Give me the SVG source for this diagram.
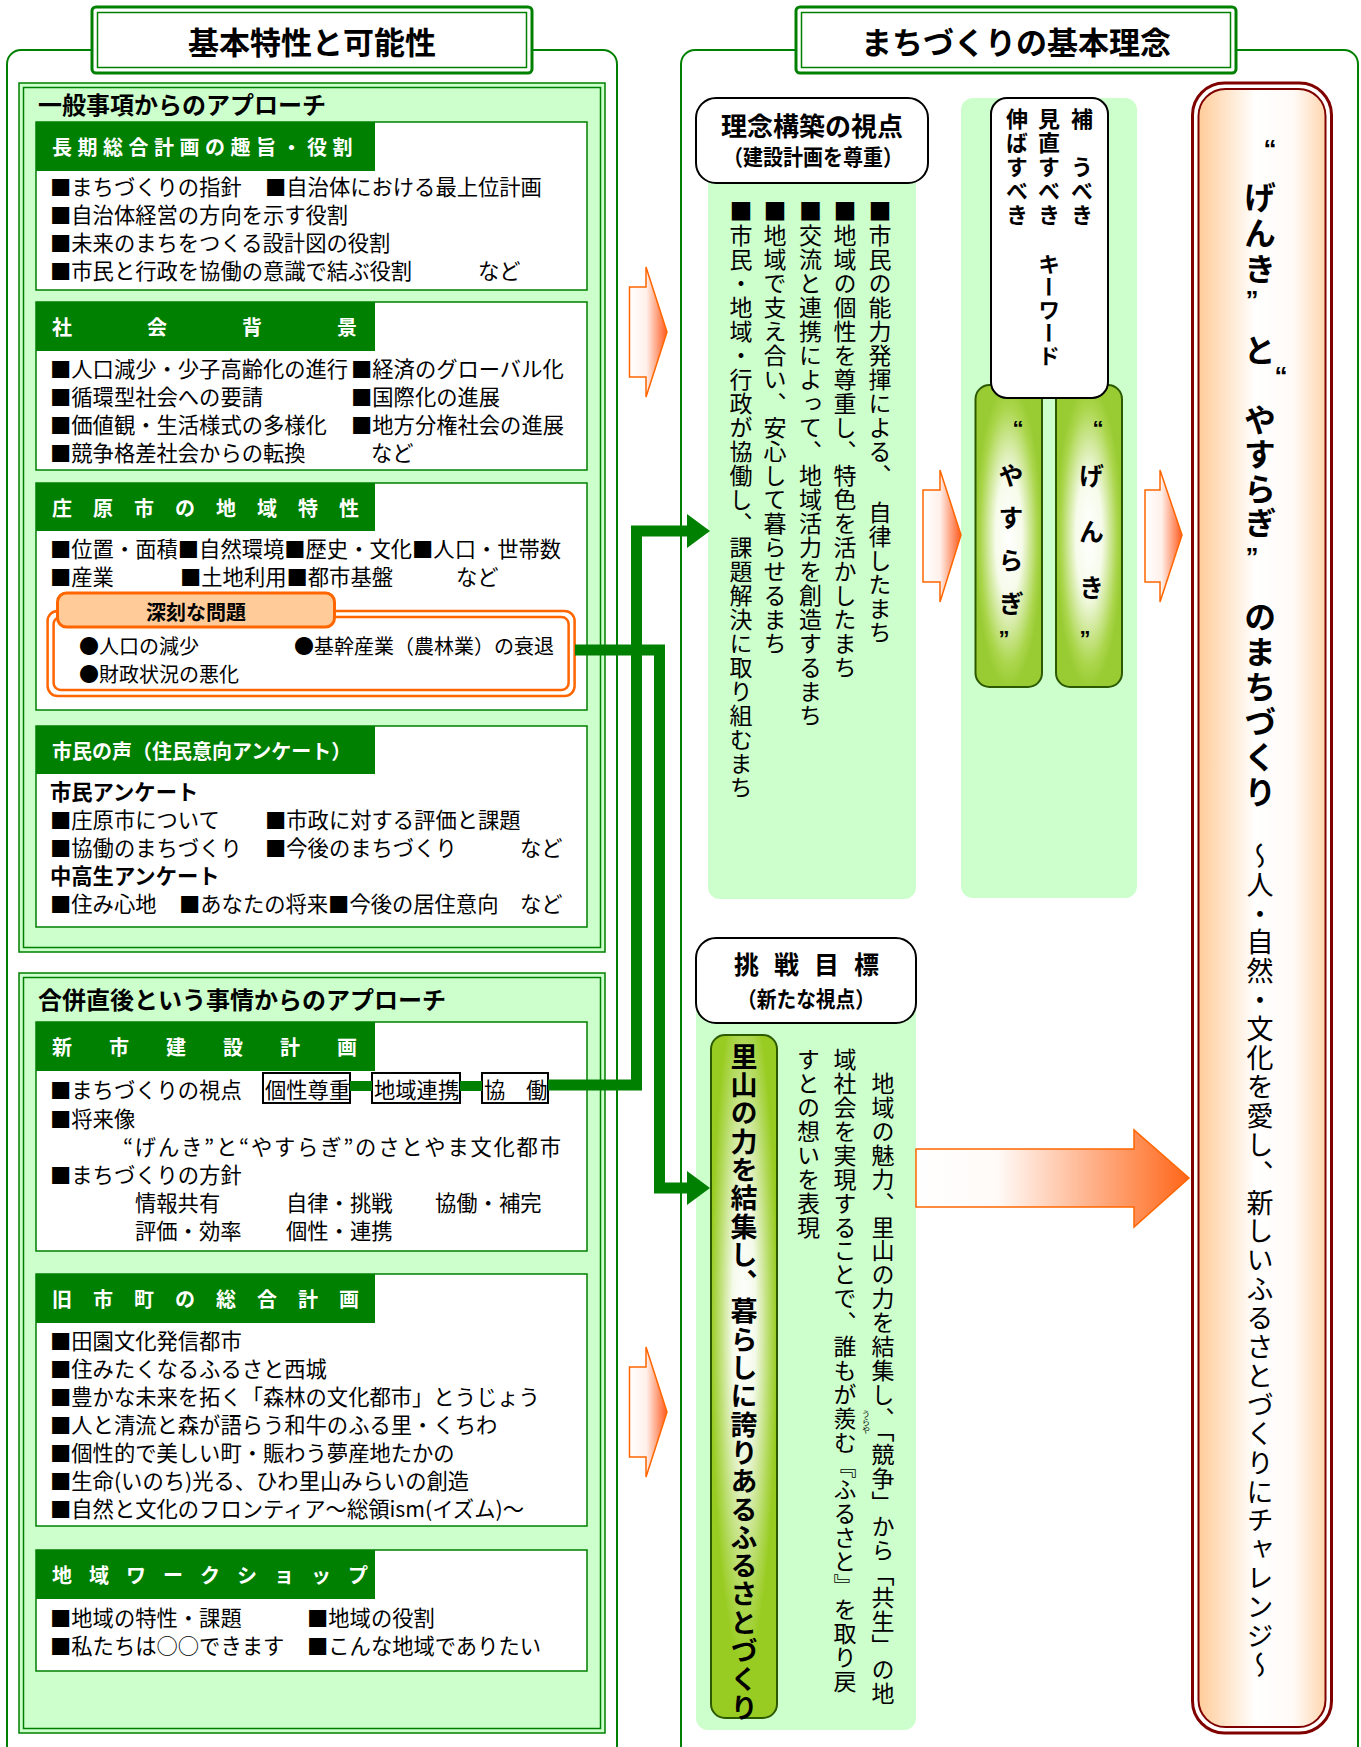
<svg xmlns="http://www.w3.org/2000/svg" width="1361" height="1747" viewBox="0 0 1361 1747">
<style>
text { font-family: 'Noto Sans CJK JP', 'Noto Sans', sans-serif; fill: #000; dominant-baseline: central; }
.b { font-size: 21.3px; }
.bb { font-size: 21.3px; font-weight: bold; }
.hd { font-size: 20px; font-weight: bold; fill: #fff; }
.sec { font-size: 24px; font-weight: bold; }
.ttl { font-size: 31px; font-weight: bold; text-anchor: middle; }
.v { writing-mode: vertical-rl; font-size: 23px; letter-spacing: 1px; }
.vb { writing-mode: vertical-rl; font-size: 22px; font-weight: bold; letter-spacing: 2px; }
.vt { writing-mode: vertical-rl; font-size: 32px; font-weight: bold; }
.vp { writing-mode: vertical-rl; font-size: 25px; font-weight: bold; }
.q { font-family: 'Liberation Sans', sans-serif; font-weight: bold; text-anchor: middle; dominant-baseline: auto; }
.frame { fill: none; stroke: #008000; stroke-width: 2; }
.gbox { fill: #ccffcc; stroke: #008000; stroke-width: 1.5; }
.gin { fill: none; stroke: #008000; stroke-width: 1.5; }
.wbox { fill: #fff; stroke: #008000; stroke-width: 1.5; }
.hbar { fill: #008000; }
.conn { fill: none; stroke: #008000; stroke-width: 11; stroke-linejoin: miter; }
.arr { stroke: #ff6600; stroke-width: 1.5; }
</style>
<defs>
<linearGradient id="arrG" x1="0" y1="0" x2="1" y2="0"><stop offset="0" stop-color="#ffffff"/><stop offset="0.45" stop-color="#fff0ea"/><stop offset="1" stop-color="#ff5a1e"/></linearGradient>
<linearGradient id="bigG" x1="0" y1="0" x2="1" y2="0"><stop offset="0" stop-color="#ffffff"/><stop offset="0.3" stop-color="#fffaf7"/><stop offset="1" stop-color="#ff6619"/></linearGradient>
<radialGradient id="pillG" cx="0.5" cy="0.5" r="0.5"><stop offset="0" stop-color="#ffffff"/><stop offset="0.4" stop-color="#f6fbea"/><stop offset="0.85" stop-color="#abd64c"/><stop offset="1" stop-color="#99cc33"/></radialGradient>
<radialGradient id="pillG2" cx="0.5" cy="0.42" r="0.5"><stop offset="0" stop-color="#ffffff"/><stop offset="0.35" stop-color="#f4faea"/><stop offset="0.85" stop-color="#abd64c"/><stop offset="1" stop-color="#99cc22"/></radialGradient>
<linearGradient id="peachG" x1="0" y1="0" x2="1" y2="0"><stop offset="0" stop-color="#ffcc99"/><stop offset="0.45" stop-color="#ffffff"/><stop offset="0.75" stop-color="#fffaf6"/><stop offset="1" stop-color="#ffd6ae"/></linearGradient>
</defs>

<!-- LEFT PANEL -->
<g id="left-panel">
<rect class="frame" x="7" y="50" width="610" height="1720" rx="14"/>
<g id="title-left">
<rect x="92" y="7" width="440" height="66" rx="4" fill="#fff" stroke="#008000" stroke-width="3"/>
<rect x="97.5" y="12.5" width="429" height="55" fill="none" stroke="#008000" stroke-width="1.5"/>
<text class="ttl" x="312" y="40">基本特性と可能性</text>
</g>
</g>

<g id="general-approach">
<rect class="gbox" x="19" y="83" width="586" height="869"/>
<rect class="gin" x="23.5" y="87.5" width="577" height="860"/>
<text class="sec" x="38" y="103">一般事項からのアプローチ</text>
</g>

<g id="sec-chouki">
<rect class="wbox" x="36" y="122" width="551" height="168"/>
<rect class="hbar" x="36" y="122" width="339" height="49"/>
<text class="hd" x="52" y="146.5" style="letter-spacing:5.5px">長期総合計画の趣旨・役割</text>
<text class="b" x="50" y="185">■まちづくりの指針</text>
<text class="b" x="265" y="185">■自治体における最上位計画</text>
<text class="b" x="50" y="213">■自治体経営の方向を示す役割</text>
<text class="b" x="50" y="241">■未来のまちをつくる設計図の役割</text>
<text class="b" x="50" y="269">■市民と行政を協働の意識で結ぶ役割</text>
<text class="b" x="478" y="269">など</text>
</g>

<g id="sec-shakai">
<rect class="wbox" x="36" y="302" width="551" height="168"/>
<rect class="hbar" x="36" y="302" width="339" height="49"/>
<text class="hd" x="52" y="326.5">社</text>
<text class="hd" x="147" y="326.5">会</text>
<text class="hd" x="242" y="326.5">背</text>
<text class="hd" x="337" y="326.5">景</text>
<text class="b" x="50" y="367">■人口減少・少子高齢化の進行</text>
<text class="b" x="351" y="367">■経済のグローバル化</text>
<text class="b" x="50" y="395">■循環型社会への要請</text>
<text class="b" x="351" y="395">■国際化の進展</text>
<text class="b" x="50" y="423">■価値観・生活様式の多様化</text>
<text class="b" x="351" y="423">■地方分権社会の進展</text>
<text class="b" x="50" y="451">■競争格差社会からの転換</text>
<text class="b" x="371" y="451">など</text>
</g>

<g id="sec-chiiki">
<rect class="wbox" x="36" y="483" width="551" height="227"/>
<rect class="hbar" x="36" y="483" width="339" height="48"/>
<text class="hd" x="52" y="507" style="letter-spacing:21px">庄原市の地域特性</text>
<text class="b" x="50" y="547">■位置・面積■自然環境■歴史・文化■人口・世帯数</text>
<text class="b" x="50" y="575">■産業</text>
<text class="b" x="180" y="575">■土地利用■都市基盤</text>
<text class="b" x="456" y="575">など</text>
</g>

<g id="shinkoku">
<rect x="47.6" y="611" width="527" height="85" rx="10" fill="#fff" stroke="#ff6600" stroke-width="2.5"/>
<rect x="53.6" y="617" width="515" height="73" rx="7" fill="#fff" stroke="#ff6600" stroke-width="2.5"/>
<rect x="57.5" y="593" width="277" height="34" rx="9" fill="#ffcc99" stroke="#ff6600" stroke-width="3"/>
<text x="196" y="611" style="font-size:20px;font-weight:bold;text-anchor:middle">深刻な問題</text>
<text x="79" y="645" style="font-size:20px">●人口の減少</text>
<text x="294" y="645" style="font-size:20px">●基幹産業（農林業）の衰退</text>
<text x="79" y="673" style="font-size:20px">●財政状況の悪化</text>
</g>

<g id="sec-shimin">
<rect class="wbox" x="36" y="726" width="551" height="201"/>
<rect class="hbar" x="36" y="726" width="339" height="48"/>
<text class="hd" x="52" y="750">市民の声（住民意向アンケート）</text>
<text class="bb" x="50" y="790">市民アンケート</text>
<text class="b" x="50" y="818">■庄原市について</text>
<text class="b" x="265" y="818">■市政に対する評価と課題</text>
<text class="b" x="50" y="846">■協働のまちづくり</text>
<text class="b" x="265" y="846">■今後のまちづくり</text>
<text class="b" x="520" y="846">など</text>
<text class="bb" x="50" y="874">中高生アンケート</text>
<text class="b" x="50" y="902">■住み心地</text>
<text class="b" x="179" y="902">■あなたの将来■今後の居住意向</text>
<text class="b" x="520" y="902">など</text>
</g>

<g id="merger-approach">
<rect class="gbox" x="19" y="973" width="586" height="760"/>
<rect class="gin" x="23.5" y="977.5" width="577" height="751"/>
<text class="sec" x="38" y="998">合併直後という事情からのアプローチ</text>
</g>

<g id="sec-shinshi">
<rect class="wbox" x="36" y="1022" width="551" height="229"/>
<rect class="hbar" x="36" y="1022" width="339" height="49"/>
<text class="hd" x="52" y="1046.5" style="letter-spacing:37px">新市建設計画</text>
<text class="b" x="50" y="1088">■まちづくりの視点</text>
<rect x="263" y="1073" width="87" height="30" fill="#fff" stroke="#000" stroke-width="2"/>
<text class="b" x="265" y="1088">個性尊重</text>
<rect x="372" y="1073" width="88" height="30" fill="#fff" stroke="#000" stroke-width="2"/>
<text class="b" x="374" y="1088">地域連携</text>
<rect x="482" y="1073" width="66" height="30" fill="#fff" stroke="#000" stroke-width="2"/>
<text class="b" x="484" y="1088">協</text>
<text class="b" x="526" y="1088">働</text>
<text class="b" x="50" y="1117">■将来像</text>
<text class="b" x="123" y="1145" textLength="438" lengthAdjust="spacing">“げんき”と“やすらぎ”のさとやま文化都市</text>
<text class="b" x="50" y="1173">■まちづくりの方針</text>
<text class="b" x="135" y="1201">情報共有</text>
<text class="b" x="286" y="1201">自律・挑戦</text>
<text class="b" x="435" y="1201">協働・補完</text>
<text class="b" x="135" y="1229">評価・効率</text>
<text class="b" x="286" y="1229">個性・連携</text>
</g>

<g id="sec-kyushi">
<rect class="wbox" x="36" y="1274" width="551" height="252"/>
<rect class="hbar" x="36" y="1274" width="339" height="49"/>
<text class="hd" x="52" y="1298.5" style="letter-spacing:21px">旧市町の総合計画</text>
<text class="b" x="50" y="1339">■田園文化発信都市</text>
<text class="b" x="50" y="1367">■住みたくなるふるさと西城</text>
<text class="b" x="50" y="1395">■豊かな未来を拓く「森林の文化都市」とうじょう</text>
<text class="b" x="50" y="1423">■人と清流と森が語らう和牛のふる里・くちわ</text>
<text class="b" x="50" y="1451">■個性的で美しい町・賑わう夢産地たかの</text>
<text class="b" x="50" y="1479">■生命(いのち)光る、ひわ里山みらいの創造</text>
<text class="b" x="50" y="1507">■自然と文化のフロンティア～総領ism(イズム)～</text>
</g>

<g id="sec-workshop">
<rect class="wbox" x="36" y="1550" width="551" height="121"/>
<rect class="hbar" x="36" y="1550" width="339" height="49"/>
<text class="hd" x="52" y="1574.5" style="letter-spacing:17px">地域ワークショップ</text>
<text class="b" x="50" y="1616">■地域の特性・課題</text>
<text class="b" x="307" y="1616">■地域の役割</text>
<text class="b" x="50" y="1644">■私たちは○○できます</text>
<text class="b" x="307" y="1644">■こんな地域でありたい</text>
</g>

<!-- RIGHT PANEL -->
<g id="right-panel">
<rect class="frame" x="681" y="50" width="677" height="1720" rx="14"/>
<g id="title-right">
<rect x="796" y="7" width="440" height="66" rx="4" fill="#fff" stroke="#008000" stroke-width="3"/>
<rect x="801.5" y="12.5" width="429" height="55" fill="none" stroke="#008000" stroke-width="1.5"/>
<text class="ttl" x="1016" y="40">まちづくりの基本理念</text>
</g>
</g>

<g id="rinen">
<rect x="708" y="160" width="208" height="739" rx="12" fill="#ccffcc"/>
<rect x="696" y="98" width="232" height="85" rx="20" fill="#fff" stroke="#000" stroke-width="2"/>
<text x="812" y="124" style="font-size:26px;font-weight:bold;text-anchor:middle">理念構築の視点</text>
<text x="723" y="155" style="font-size:22px;font-weight:bold" textLength="180" lengthAdjust="spacingAndGlyphs">（建設計画を尊重）</text>
<text class="v" x="880" y="200">■市民の能力発揮による、　自律したまち</text>
<text class="v" x="845" y="200">■地域の個性を尊重し、特色を活かしたまち</text>
<text class="v" x="810.5" y="200">■交流と連携によって、地域活力を創造するまち</text>
<text class="v" x="775" y="200">■地域で支え合い、安心して暮らせるまち</text>
<text class="v" x="741" y="200">■市民・地域・行政が協働し、課題解決に取り組むまち</text>
</g>

<g id="keyword">
<rect x="961" y="98" width="176" height="800" rx="12" fill="#ccffcc"/>
<rect x="975.5" y="385" width="66.5" height="302" rx="14" fill="url(#pillG)" stroke="#2d5a00" stroke-width="2"/>
<rect x="1056" y="385" width="66" height="302" rx="14" fill="url(#pillG)" stroke="#2d5a00" stroke-width="2"/>
<rect x="991" y="98" width="117" height="300" rx="16" fill="#fff" stroke="#000" stroke-width="2"/>
<text class="vb" x="1082" y="108">補　うべき</text>
<text class="vb" x="1049" y="108">見直すべき</text>
<text class="vb" x="1017" y="108">伸ばすべき</text>
<text class="vb" x="1049" y="253" style="letter-spacing:1px">キーワード</text>
<text class="q" x="1018" y="436" style="font-size:22px">“</text>
<text class="vp" x="1011" y="462.5" style="letter-spacing:17.7px">やすらぎ</text>
<text class="q" x="1004" y="646" style="font-size:22px">”</text>
<text class="q" x="1098" y="436" style="font-size:22px">“</text>
<text class="vp" x="1091.5" y="462.5" style="letter-spacing:31px">げんき</text>
<text class="q" x="1085" y="646" style="font-size:22px">”</text>
</g>

<g id="final-goal">
<rect x="1192.5" y="83" width="139" height="1650" rx="32" fill="none" stroke="#800000" stroke-width="3"/>
<rect x="1198.5" y="89" width="127" height="1638" rx="27" fill="url(#peachG)" stroke="#800000" stroke-width="2"/>
<text class="q" x="1270" y="158" style="font-size:26px">“</text>
<text class="vt" x="1260" y="181" style="letter-spacing:4px">げんき</text>
<text class="q" x="1252" y="309" style="font-size:26px">”</text>
<text class="vt" x="1260" y="334">と</text>
<text class="q" x="1281" y="385" style="font-size:26px">“</text>
<text class="vt" x="1260" y="404" style="letter-spacing:2.3px">やすらぎ</text>
<text class="q" x="1252" y="566" style="font-size:26px">”</text>
<text class="vt" x="1260" y="601" style="letter-spacing:3px">のまちづくり</text>
<text x="1260" y="842" style="writing-mode:vertical-rl;font-size:27px;letter-spacing:1.9px">～人・自然・文化を愛し、新しいふるさとづくりにチャレンジ～</text>
</g>

<g id="chousen">
<rect x="696" y="1000" width="220" height="730" rx="12" fill="#ccffcc"/>
<rect x="696" y="938" width="220" height="85" rx="20" fill="#fff" stroke="#000" stroke-width="2"/>
<text x="734" y="963" style="font-size:25px;font-weight:bold;letter-spacing:15px">挑戦目標</text>
<text x="737" y="997" style="font-size:22px;font-weight:bold" textLength="138" lengthAdjust="spacingAndGlyphs">（新たな視点）</text>
<rect x="711" y="1035" width="66" height="683" rx="14" fill="url(#pillG2)" stroke="#2d5a00" stroke-width="2"/>
<text x="744" y="1043" style="writing-mode:vertical-rl;font-size:27px;font-weight:bold;letter-spacing:1.3px">里山の力を結集し、暮らしに誇りあるふるさとづくり</text>
<text class="v" x="883" y="1048" style="letter-spacing:0.9px">　地域の魅力、里山の力を結集し、「競争」から「共生」の地</text>
<text class="v" x="845" y="1048" style="letter-spacing:0.9px">域社会を実現することで、誰もが羨む『ふるさと』を取り戻</text>
<text class="v" x="808.6" y="1048" style="letter-spacing:0.9px">すとの想いを表現</text>
<text x="866" y="1410" style="writing-mode:vertical-rl;font-size:8px">うらや</text>
</g>

<g id="arrows">
<path class="arr" fill="url(#arrG)" d="M629.5,287 H646 V267 L667,332 L646,397 V377 H629.5 Z"/>
<path class="arr" fill="url(#arrG)" d="M629.5,1367 H646 V1347 L667,1412 L646,1477 V1457 H629.5 Z"/>
<path class="arr" fill="url(#arrG)" d="M923,490 H940 V470 L961,535 L940,602 V582 H923 Z"/>
<path class="arr" fill="url(#arrG)" d="M1145,490 H1160 V470 L1182,535 L1160,602 V582 H1145 Z"/>
<path class="arr" fill="url(#bigG)" d="M916,1149 H1134 V1130 L1189,1178 L1134,1227 V1207 H916 Z"/>
</g>

<g id="connectors">
<rect class="hbar" x="350" y="1081" width="22" height="10"/>
<rect class="hbar" x="460" y="1081" width="22" height="10"/>
<path class="conn" d="M575,650 H659.5 V1188 H690"/>
<path class="conn" d="M548,1085 H636.5 V531 H690"/>
<polygon fill="#008000" points="687,514 710,531 687,548"/>
<polygon fill="#008000" points="687,1171 710,1188 687,1205"/>
</g>
</svg>
